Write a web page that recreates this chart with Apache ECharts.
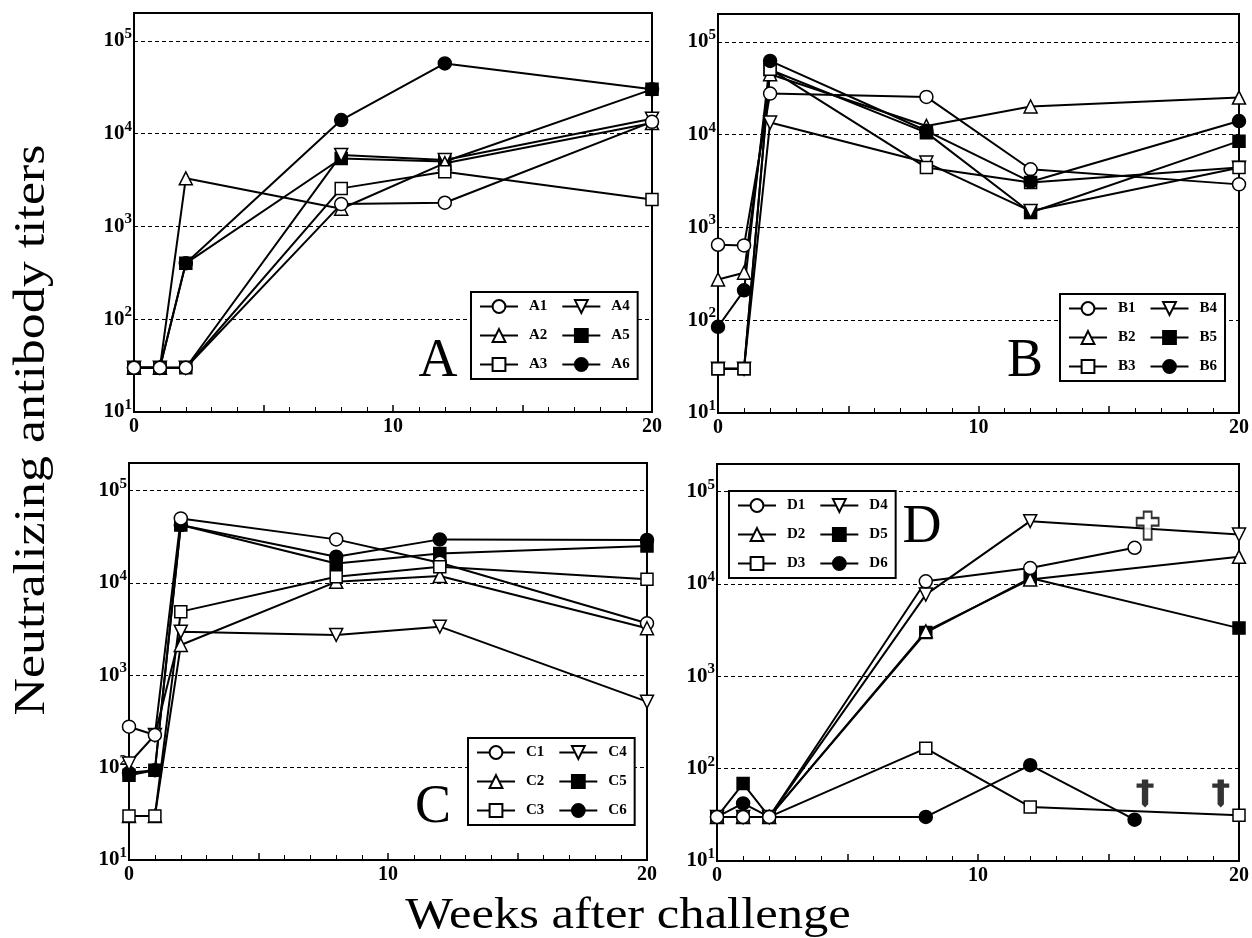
<!DOCTYPE html>
<html>
<head>
<meta charset="utf-8">
<script src="https://cdn.jsdelivr.net/npm/echarts@6/dist/echarts.min.js"></script>
<style>
html,body{margin:0;padding:0;background:#fff;}
#chart{width:1252px;height:938px;}
</style>
</head>
<body>
<div id="chart"></div>
<script>
// ---------- data (titers) ----------
const weeks = [0, 1, 2, 8, 12, 20];
const weeksTo16 = [0, 1, 2, 8, 12, 16];

const A1 = [30, 30, 30, 1740, 1800, 13400];
const A2 = [30, 30, 3300, 1550, 4800, 13000];
const A3 = [30, 30, 30, 2570, 3880, 1950];
const A4 = [30, 30, 30, 5900, 5200, 14500];
const A5 = [30, 30, 400, 5400, 5000, 30000];
const A6 = [30, 30, 400, 14000, 57000, 30000];

const B1 = [650, 640, 27700, 25500, 4230, 2910];
const B2 = [275, 325, 44800, 12400, 20100, 25100];
const B3 = [30, 30, 50700, 4420, 3040, 4420];
const B4 = [30, 30, 13500, 5000, 1500, 4400];
const B5 = [30, 30, 50000, 10500, 1450, 8500];
const B6 = [85, 210, 62300, 11000, 3100, 14000];

const C1 = [278, 226, 50100, 29700, 16600, 3660];
const C2 = [30, 30, 2130, 10300, 11900, 3240];
const C3 = [30, 30, 4900, 11700, 15000, 11000];
const C4 = [111, 226, 2970, 2740, 3370, 519];
const C5 = [83, 94, 42500, 16300, 20900, 25200];
const C6 = [88, 94, 42500, 19300, 29700, 29300];

const D1 = [30, 30, 30, 10700, 14900, 24700];   // weeksTo16
const D2 = [30, 30, 30, 3070, 11200, 19700];
const D3 = [30, 30, 30, 166, 38.5, 31.3];
const D4 = [30, 30, 30, 7680, 48000, 34400];
const D5 = [30, 69, 30, 2980, 11600, 3330];
const D6 = [30, 42, 30, 30, 109, 28];           // weeksTo16

const deathDaggers = [[16.4, 54], [19.3, 54]];
const deathCross = [[16.5, 43000]];

const xTickLabels = [0, 10, 20];
const yDecades = [1, 2, 3, 4, 5];

// ---------- styling ----------
const FONT = '"Liberation Serif", "Times New Roman", serif';
const SYM = {
  circle: 'circle',
  tri: 'triangle',
  square: 'rect',
  invTri: 'path://M0,0 L10,0 L5,9 Z'
};
const DAGGER = 'path://M5,0 H11 V4 H16 V8 H11 V24 L8,27 L5,24 V8 H0 V4 H5 Z';
const CROSS = 'path://M7,0 H15 V6 H22 V13 H15 V26 H7 V13 H0 V6 H7 Z';

function toPts(xs, vals) {
  return vals.map((v, i) => [xs[i], Math.log10(v)]);
}
function lineSeries(name, gi, xs, vals, sym, filled) {
  return {
    name: name, type: 'line', xAxisIndex: gi, yAxisIndex: gi,
    data: toPts(xs, vals),
    symbol: sym, symbolSize: sym === SYM.square ? 12 : 13,
    showAllSymbol: true,
    lineStyle: {color: '#000', width: 2},
    itemStyle: {color: filled ? '#000' : '#fff', borderColor: '#000', borderWidth: 1.5},
    emphasis: {disabled: true},
    animation: false
  };
}

const grids = [
  {left: 134, top: 13, width: 518, height: 399},
  {left: 718, top: 14, width: 522, height: 399},
  {left: 129, top: 463, width: 518, height: 397},
  {left: 717, top: 464, width: 522, height: 397}
];

const xAxes = grids.map((g, i) => ({
  gridIndex: i, type: 'value', min: 0, max: 20, interval: 5,
  axisLine: {show: true, onZero: false, lineStyle: {color: '#000', width: 2}},
  axisTick: {show: true, inside: true, length: 7, lineStyle: {color: '#000', width: 1.5}},
  minorTick: {show: true, splitNumber: 5, length: 5, lineStyle: {color: '#000', width: 1}},
  splitLine: {show: false},
  axisLabel: {
    margin: 5, color: '#000', fontFamily: FONT, fontWeight: 'bold', fontSize: 20,
    formatter: v => (xTickLabels.indexOf(v) >= 0 ? String(v) : '')
  }
}));

const yAxes = grids.map((g, i) => ({
  gridIndex: i, type: 'value', min: 1, max: 5.3, interval: 1,
  axisLine: {show: true, onZero: false, lineStyle: {color: '#000', width: 2}},
  axisTick: {show: false},
  splitLine: {show: true, lineStyle: {color: '#000', width: 1, type: [4, 3]}},
  axisLabel: {
    margin: 2,
    formatter: v => {
      const r = Math.round(v);
      return (Math.abs(v - r) < 1e-6 && yDecades.indexOf(r) >= 0) ? '{a|10}{b|' + r + '}' : '';
    },
    rich: {
      a: {fontFamily: FONT, fontWeight: 'bold', fontSize: 21, color: '#000'},
      b: {fontFamily: FONT, fontWeight: 'bold', fontSize: 15, color: '#000', padding: [0, 0, 14, 0]}
    }
  }
}));

const series = [
  // panel A (draw order chosen so that overlapping markers look as in the figure)
  lineSeries('A5', 0, weeks, A5, SYM.square, true),
  lineSeries('A6', 0, weeks, A6, SYM.circle, true),
  lineSeries('A4', 0, weeks, A4, SYM.invTri, false),
  lineSeries('A2', 0, weeks, A2, SYM.tri, false),
  lineSeries('A3', 0, weeks, A3, SYM.square, false),
  lineSeries('A1', 0, weeks, A1, SYM.circle, false),
  // panel B
  lineSeries('B5', 1, weeks, B5, SYM.square, true),
  lineSeries('B4', 1, weeks, B4, SYM.invTri, false),
  lineSeries('B1', 1, weeks, B1, SYM.circle, false),
  lineSeries('B2', 1, weeks, B2, SYM.tri, false),
  lineSeries('B3', 1, weeks, B3, SYM.square, false),
  lineSeries('B6', 1, weeks, B6, SYM.circle, true),
  // panel C
  lineSeries('C5', 2, weeks, C5, SYM.square, true),
  lineSeries('C6', 2, weeks, C6, SYM.circle, true),
  lineSeries('C4', 2, weeks, C4, SYM.invTri, false),
  lineSeries('C1', 2, weeks, C1, SYM.circle, false),
  lineSeries('C2', 2, weeks, C2, SYM.tri, false),
  lineSeries('C3', 2, weeks, C3, SYM.square, false),
  // panel D
  lineSeries('D5', 3, weeks, D5, SYM.square, true),
  lineSeries('D6', 3, weeksTo16, D6, SYM.circle, true),
  lineSeries('D2', 3, weeks, D2, SYM.tri, false),
  lineSeries('D3', 3, weeks, D3, SYM.square, false),
  lineSeries('D4', 3, weeks, D4, SYM.invTri, false),
  lineSeries('D1', 3, weeksTo16, D1, SYM.circle, false),
  {
    name: 'daggers', type: 'scatter', xAxisIndex: 3, yAxisIndex: 3,
    data: deathDaggers.map(p => [p[0], Math.log10(p[1])]),
    symbol: DAGGER, symbolSize: [17, 28], itemStyle: {color: '#000'},
    silent: true, animation: false, z: 5
  },
  {
    name: 'cross', type: 'scatter', xAxisIndex: 3, yAxisIndex: 3,
    data: deathCross.map(p => [p[0], Math.log10(p[1])]),
    symbol: CROSS, symbolSize: [22, 28],
    itemStyle: {color: '#fff', borderColor: '#000', borderWidth: 2},
    silent: true, animation: false, z: 5
  }
];

function legendFor(prefix, left, top) {
  return {
    orient: 'vertical', left: left, top: top, height: 84,
    padding: [7, 8, 7, 8], itemGap: 14, itemWidth: 38, itemHeight: 16,
    borderColor: '#000', borderWidth: 2, backgroundColor: '#fff',
    selectedMode: false,
    data: [1, 2, 3, 4, 5, 6].map(k => prefix + k),
    formatter: '{n|{name}}',
    textStyle: {
      fontFamily: FONT, fontWeight: 'bold', fontSize: 15, color: '#000',
      rich: {n: {fontFamily: FONT, fontWeight: 'bold', fontSize: 15, color: '#000', padding: [0, 0, 0, 6], width: 20}}
    }
  };
}

const panelLetter = (t, x, y) => ({
  type: 'text', x: x, y: y, silent: true, z: 10,
  style: {text: t, fontFamily: FONT, fontSize: 54, fill: '#000', textAlign: 'center', textVerticalAlign: 'middle'}
});

const option = {
  backgroundColor: '#fff',
  animation: false,
  grid: grids.map(g => Object.assign({show: true, borderColor: '#000', borderWidth: 2, backgroundColor: 'transparent'}, g)),
  xAxis: xAxes,
  yAxis: yAxes,
  legend: [
    legendFor('A', 471, 292),
    legendFor('B', 1060, 294),
    legendFor('C', 468, 738),
    legendFor('D', 729, 491)
  ],
  series: series,
  graphic: [
    panelLetter('A', 438, 362),
    panelLetter('B', 1025, 362),
    panelLetter('C', 433, 808),
    panelLetter('D', 922, 528),
    {
      type: 'text', x: 628, y: 916, silent: true, scaleX: 1.15,
      style: {text: 'Weeks after challenge', fontFamily: FONT, fontSize: 44, fill: '#000', textAlign: 'center', textVerticalAlign: 'middle'}
    },
    {
      type: 'text', x: 32, y: 430, rotation: Math.PI / 2, silent: true, scaleX: 1.18,
      style: {text: 'Neutralizing antibody titers', fontFamily: FONT, fontSize: 44, fill: '#000', textAlign: 'center', textVerticalAlign: 'middle'}
    }
  ]
};

const chart = echarts.init(document.getElementById('chart'), null, {renderer: 'canvas'});
chart.setOption(option);
</script>
</body>
</html>
